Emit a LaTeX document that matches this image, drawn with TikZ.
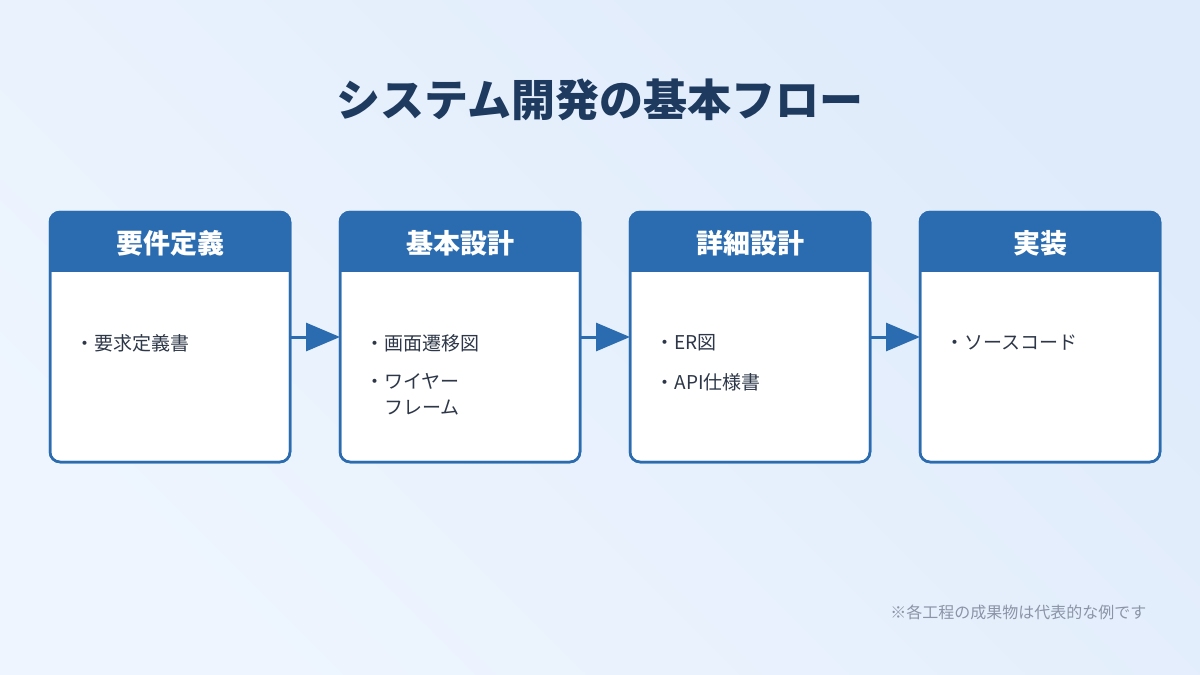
\documentclass[tikz,border=0pt]{standalone}
\usepackage{fontspec}
\newfontfamily\jp{Noto Sans CJK JP}
\usetikzlibrary{arrows.meta}
\definecolor{bgA}{HTML}{EEF5FE}
\definecolor{bgB}{HTML}{DFEBFB}
\definecolor{hdr}{HTML}{2B6CB0}
\definecolor{ttl}{HTML}{1E3A5F}
\definecolor{txt}{HTML}{2D3748}
\definecolor{note}{HTML}{8A94A6}
\begin{document}
\begin{tikzpicture}[x=1pt,y=-1pt,
  box/.style={draw=hdr,line width=2.5pt,rounded corners=10pt,fill=white},
  head/.style={font=\jp\bfseries\fontsize{27}{30}\selectfont,text=white},
  item/.style={font=\jp\fontsize{19}{26}\selectfont,text=txt,anchor=north west,align=left},
  arr/.style={draw=hdr,line width=3pt,-{Triangle[length=34pt,width=28pt]}}]
\shade[left color=bgA,right color=bgB,shading angle=135] (0,0) rectangle (1200,675);
\useasboundingbox (0,0) rectangle (1200,675);
\node[font=\jp\bfseries\fontsize{44}{50}\selectfont,text=ttl] (title) at (600,100) {システム開発の基本フロー};
\foreach \i/\x/\h in {1/50/要件定義,2/340/基本設計,3/630/詳細設計,4/920/実装}{
  \path[box] (\x,212) rectangle (\x+240,462);
  \begin{scope}
  \clip[rounded corners=10pt] (\x,212) rectangle (\x+240,462);
  \fill[hdr] (\x,212) rectangle (\x+240,272);
  \end{scope}
  \draw[hdr,line width=2.5pt,rounded corners=10pt] (\x,212) rectangle (\x+240,462);
  \node[head] (h\i) at (\x+120,243) {\h};
  \coordinate (L\i) at (\x,337);
  \coordinate (R\i) at (\x+240,337);
}
\draw[arr] (R1) -- (L2);
\draw[arr] (R2) -- (L3);
\draw[arr] (R3) -- (L4);
\node[item] (a1) at (72,331) {・要求定義書};
\node[item] (b1) at (362,331) {・画面遷移図};
\node[item] (b2) at (362,370) {・ワイヤー\\\hspace{19pt}フレーム};
\node[item] (c1) at (652,331) {・ER図};
\node[item] (c2) at (652,370) {・API仕様書};
\node[item] (d1) at (942,331) {・ソースコード};
\node[font=\jp\fontsize{16}{20}\selectfont,text=note,anchor=east] (fn) at (1150,612) {※各工程の成果物は代表的な例です};
\end{tikzpicture}
\end{document}
